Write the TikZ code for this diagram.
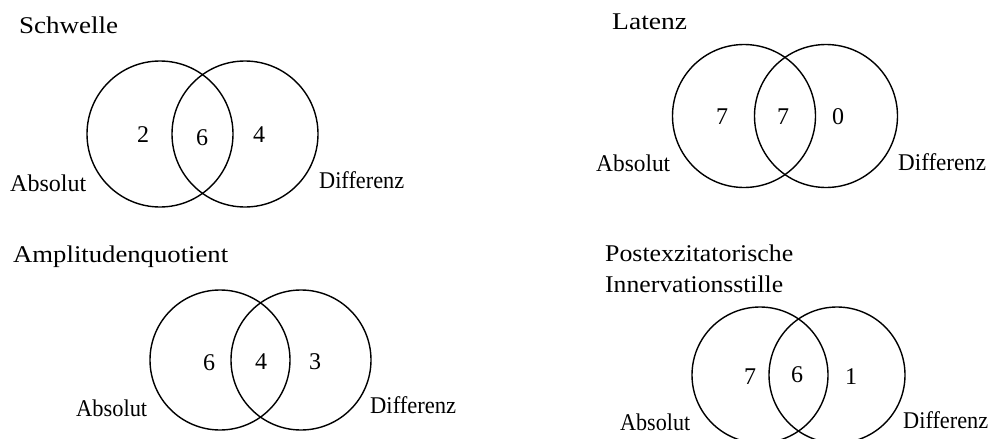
\documentclass[tikz,border=0pt]{standalone}
\usepackage{fontspec}
\usepackage{graphicx}
\setmainfont{Liberation Serif}
\newcommand{\fitw}[2]{\resizebox{#1pt}{\height}{#2}}
\begin{document}
\begin{tikzpicture}[x=1pt,y=-1pt,
  venn/.style={circle,draw,line width=1.4pt,inner sep=0pt},
  lbl/.style={inner sep=0pt,anchor=west,font=\fontsize{24}{28}\selectfont},
  num/.style={inner sep=0pt,font=\fontsize{24}{28}\selectfont}]
\useasboundingbox (0,0) rectangle (991,439);
% Schwelle
\node[venn,minimum size=146pt] (sa) at (160,134) {};
\node[venn,minimum size=146pt] (sb) at (245,134) {};
\node[lbl] (st) at (19,25) {\fitw{99}{Schwelle}};
\node[num] (s1) at (143,135) {2};
\node[num] (s2) at (202,138) {6};
\node[num] (s3) at (259,135) {4};
\node[lbl] (sl) at (10,183) {\fitw{76}{Absolut}};
\node[lbl] (sr) at (319,180) {\fitw{85}{Differenz}};
% Latenz
\node[venn,minimum size=143pt] (la) at (744,116) {};
\node[venn,minimum size=143pt] (lb) at (826,116) {};
\node[lbl] (lt) at (612,22) {\fitw{75}{Latenz}};
\node[num] (l1) at (722,117) {7};
\node[num] (l2) at (783,117) {7};
\node[num] (l3) at (838,117) {0};
\node[lbl] (ll) at (596,163) {\fitw{74}{Absolut}};
\node[lbl] (lr) at (898,162) {\fitw{88}{Differenz}};
% Amplitudenquotient
\node[venn,minimum size=140pt] (aa) at (220,360) {};
\node[venn,minimum size=140pt] (ab) at (301,360) {};
\node[lbl] (at) at (13,257) {\fitw{215}{Amplitudenquotient}};
\node[num] (a1) at (209,363) {6};
\node[num] (a2) at (261,362) {4};
\node[num] (a3) at (315,362) {3};
\node[lbl] (al) at (76,408) {\fitw{71}{Absolut}};
\node[lbl] (ar) at (370,405) {\fitw{86}{Differenz}};
% Postexzitatorische Innervationsstille
\node[venn,minimum size=136pt] (pa) at (760,375) {};
\node[venn,minimum size=136pt] (pb) at (837,375) {};
\node[lbl] (pt1) at (605,253) {\fitw{188}{Postexzitatorische}};
\node[lbl] (pt2) at (605,284) {\fitw{178}{Innervationsstille}};
\node[num] (p1) at (750,377) {7};
\node[num] (p2) at (797,375) {6};
\node[num] (p3) at (851,377) {1};
\node[lbl] (pl) at (620,422) {\fitw{70}{Absolut}};
\node[lbl] (pr) at (903,420) {\fitw{85}{Differenz}};
\end{tikzpicture}
\end{document}
